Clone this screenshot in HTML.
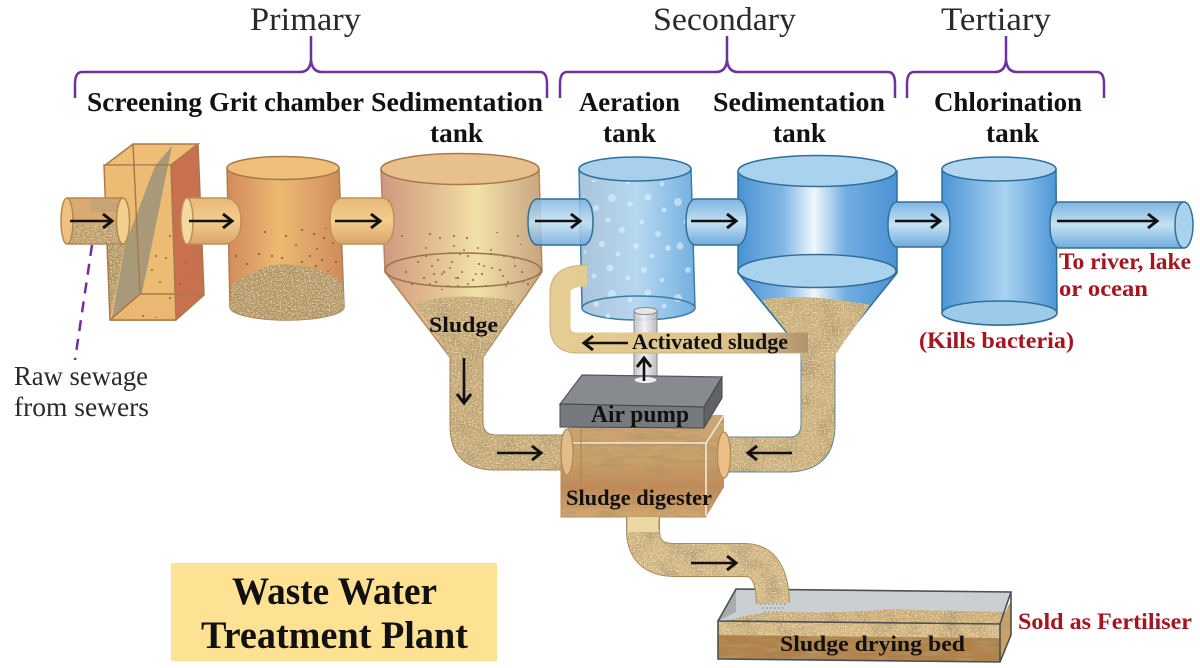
<!DOCTYPE html>
<html><head><meta charset="utf-8"><style>
html,body{margin:0;padding:0;background:#fff;width:1200px;height:668px;overflow:hidden}
svg{display:block}
text{font-family:"Liberation Serif",serif}
.h{font-size:33px;fill:#2a2a2a}
.b{font-size:27px;font-weight:bold;fill:#111}
.r{font-size:23px;font-weight:bold;fill:#a5141f}
.s{font-size:22px;font-weight:bold;fill:#111}
.n{font-size:27px;fill:#2a2a2a}
.t{font-size:39px;font-weight:bold;fill:#111}
</style></head><body>
<svg width="1200" height="668" viewBox="0 0 1200 668" xmlns="http://www.w3.org/2000/svg">
<defs>
<marker id="a" markerWidth="16" markerHeight="18" refX="13" refY="9" orient="auto" markerUnits="userSpaceOnUse"><path d="M4 2 L13 9 L4 16" fill="none" stroke="#111" stroke-width="3"/></marker>
<filter id="sand" filterUnits="userSpaceOnUse" x="0" y="0" width="1200" height="668">
<feTurbulence type="fractalNoise" baseFrequency="0.7" numOctaves="2" seed="4" result="n1"/>
<feColorMatrix in="n1" type="matrix" values="0 0 0 0 .42  0 0 0 0 .30  0 0 0 0 .14  2.200 0 0 0 -1.020" result="c1"/>
<feComposite in="c1" in2="SourceAlpha" operator="in" result="d1"/>
<feTurbulence type="fractalNoise" baseFrequency="0.65" numOctaves="2" seed="11" result="n2"/>
<feColorMatrix in="n2" type="matrix" values="0 0 0 0 .93  0 0 0 0 .84  0 0 0 0 .62  2.200 0 0 0 -1.020" result="c2"/>
<feComposite in="c2" in2="SourceAlpha" operator="in" result="d2"/>
<feTurbulence type="fractalNoise" baseFrequency="0.05" numOctaves="2" seed="7" result="n3"/>
<feColorMatrix in="n3" type="matrix" values="0 0 0 0 .45  0 0 0 0 .32  0 0 0 0 .15  2.400 0 0 0 -1.100" result="c3"/>
<feComposite in="c3" in2="SourceAlpha" operator="in" result="d3"/>
<feMerge><feMergeNode in="SourceGraphic"/><feMergeNode in="d3"/><feMergeNode in="d1"/><feMergeNode in="d2"/></feMerge>
</filter>
<filter id="soft" filterUnits="userSpaceOnUse" x="0" y="0" width="1200" height="668">
<feTurbulence type="fractalNoise" baseFrequency="0.04 0.25" numOctaves="3" seed="3" result="n1"/>
<feColorMatrix in="n1" type="matrix" values="0 0 0 0 .45  0 0 0 0 .30  0 0 0 0 .14  2.200 0 0 0 -.950" result="c1"/>
<feComposite in="c1" in2="SourceAlpha" operator="in" result="d1"/>
<feMerge><feMergeNode in="SourceGraphic"/><feMergeNode in="d1"/></feMerge>
</filter>
<pattern id="dots" width="116" height="62" patternUnits="userSpaceOnUse">
<path d="M4 8h0M15 16h0M27 6h0M36 22h0M50 10h0M58 24h0M9 32h0M22 38h0M33 46h0M44 34h0M54 50h0M18 26h0M40 8h0M3 52h0M70 14h0M78 8h0M84 18h0M90 12h0M96 24h0M104 14h0M110 30h0M100 38h0M88 34h0M76 30h0M70 44h0M82 48h0M92 52h0M106 50h0M64 36h0M112 6h0M94 42h0M86 26h0" stroke="#8a6a3c" stroke-width="2.300" stroke-linecap="round"/>
</pattern>
<pattern id="bub" width="112" height="96" patternUnits="userSpaceOnUse">
<g fill="#e8f5fc">
<circle cx="6" cy="10" r="4"/><circle cx="22" cy="4" r="2.500"/><circle cx="36" cy="16" r="3"/><circle cx="52" cy="6" r="4"/><circle cx="70" cy="12" r="2.500"/><circle cx="88" cy="5" r="3.500"/><circle cx="104" cy="18" r="2.500"/>
<circle cx="14" cy="30" r="2.500"/><circle cx="30" cy="36" r="3.500"/><circle cx="48" cy="28" r="2.500"/><circle cx="62" cy="38" r="3"/><circle cx="82" cy="30" r="2.500"/><circle cx="98" cy="42" r="3"/>
<circle cx="8" cy="54" r="3.500"/><circle cx="24" cy="60" r="2.500"/><circle cx="42" cy="52" r="3"/><circle cx="58" cy="62" r="2.500"/><circle cx="76" cy="54" r="3"/><circle cx="92" cy="64" r="2.500"/><circle cx="108" cy="56" r="3"/>
<circle cx="16" cy="78" r="3"/><circle cx="34" cy="84" r="2.500"/><circle cx="50" cy="76" r="3.500"/><circle cx="68" cy="86" r="2.500"/><circle cx="84" cy="78" r="3"/><circle cx="102" cy="88" r="2.500"/>
</g>
</pattern>
<linearGradient id="tan"><stop offset="0" stop-color="#d28a5c"/><stop offset=".45" stop-color="#ecba72"/><stop offset="1" stop-color="#cf8a5c"/></linearGradient>
<linearGradient id="tanb"><stop offset="0" stop-color="#cf9880"/><stop offset=".3" stop-color="#e2bb90"/><stop offset=".6" stop-color="#f1e0a8"/><stop offset="1" stop-color="#c8a480"/></linearGradient>
<linearGradient id="pv" x2="0" y2="1"><stop offset="0" stop-color="#e8b878"/><stop offset=".5" stop-color="#f2cd8d"/><stop offset="1" stop-color="#dca56c"/></linearGradient>
<linearGradient id="bv" x2="0" y2="1"><stop offset="0" stop-color="#7db4e0"/><stop offset=".5" stop-color="#c4e1f4"/><stop offset="1" stop-color="#6fabdc"/></linearGradient>
<linearGradient id="aer"><stop offset="0" stop-color="#a9c4d9"/><stop offset=".5" stop-color="#b6d8f0"/><stop offset="1" stop-color="#74b0e0"/></linearGradient>
<linearGradient id="sed2"><stop offset="0" stop-color="#4a92d4"/><stop offset=".28" stop-color="#7fb6e4"/><stop offset=".48" stop-color="#f0f7fc"/><stop offset=".68" stop-color="#72ade0"/><stop offset="1" stop-color="#4a92d4"/></linearGradient>
<linearGradient id="chl"><stop offset="0" stop-color="#4c95d6"/><stop offset=".55" stop-color="#aad3f0"/><stop offset="1" stop-color="#4c95d6"/></linearGradient>
<linearGradient id="sl"><stop offset="0" stop-color="#e4cd92"/><stop offset=".7" stop-color="#dcc28a"/><stop offset="1" stop-color="#b0946c"/></linearGradient>
<linearGradient id="dig" x2="0" y2="1"><stop offset="0" stop-color="#cba678"/><stop offset=".45" stop-color="#c8a068"/><stop offset=".72" stop-color="#c28856"/><stop offset="1" stop-color="#d2a870"/></linearGradient>
<linearGradient id="tube"><stop offset="0" stop-color="#bdbdc2"/><stop offset=".45" stop-color="#f1f1f3"/><stop offset="1" stop-color="#b5b5ba"/></linearGradient>
</defs>

<!-- headings -->
<text class="h" x="250" y="30" textLength="111" lengthAdjust="spacingAndGlyphs">Primary</text>
<text class="h" x="653" y="30" textLength="143" lengthAdjust="spacingAndGlyphs">Secondary</text>
<text class="h" x="941" y="30" textLength="110" lengthAdjust="spacingAndGlyphs">Tertiary</text>
<g fill="none" stroke="#7030a0" stroke-width="2.500">
<path d="M75 98 V84 Q75 72 82 72 H300 Q310 72 311 60 V36 V60 Q312 72 322 72 H540 Q547 72 547 84 V98"/>
<path d="M560 98 V84 Q560 72 567 72 H716 Q726 72 727 60 V36 V60 Q728 72 738 72 H888 Q895 72 895 84 V98"/>
<path d="M907 98 V84 Q907 72 914 72 H995 Q1005 72 1006 60 V36 V60 Q1007 72 1017 72 H1097 Q1104 72 1104 84 V98"/>
</g>
<text class="b" x="87" y="111" textLength="115" lengthAdjust="spacingAndGlyphs">Screening</text>
<text class="b" x="209" y="111" textLength="155" lengthAdjust="spacingAndGlyphs">Grit chamber</text>
<text class="b" x="371" y="111" textLength="172" lengthAdjust="spacingAndGlyphs">Sedimentation</text>
<text class="b" x="430" y="142" textLength="53" lengthAdjust="spacingAndGlyphs">tank</text>
<text class="b" x="579" y="111" textLength="101" lengthAdjust="spacingAndGlyphs">Aeration</text>
<text class="b" x="603" y="142" textLength="53" lengthAdjust="spacingAndGlyphs">tank</text>
<text class="b" x="713" y="111" textLength="172" lengthAdjust="spacingAndGlyphs">Sedimentation</text>
<text class="b" x="773" y="142" textLength="53" lengthAdjust="spacingAndGlyphs">tank</text>
<text class="b" x="934" y="111" textLength="148" lengthAdjust="spacingAndGlyphs">Chlorination</text>
<text class="b" x="986" y="142" textLength="53" lengthAdjust="spacingAndGlyphs">tank</text>

<!-- screening -->
<path d="M104 166 H171 L176 321 H110 Z" fill="#ecbc74"/>
<path d="M104 166 L133 144 H198 L171 165 Z" fill="#eebd76"/>
<path d="M110 320 L140 294 H204 L176 320 Z" fill="#eab871"/>
<path d="M171 165 L198 144 L204 295 L176 320 Z" fill="#c9714f"/>
<path d="M107 244 H125 L112 310 L110 318 Z" fill="#b3935c" filter="url(#sand)"/>
<path d="M172 146 L155 166 L125 245 L112 318 L142 293 Z" fill="#a89a78"/>
<path d="M150 225 H172 V290 H145 Z M120 318 L142 296 H200 L176 318 Z M176 235 H200 V292 H176 Z" fill="url(#dots)" opacity=".8"/>
<path d="M104 166 L133 144 H198 L171 165 H104 L110 320 H176 L171 165 M198 144 L204 295 L176 320 M110 320 L140 294 H204 M133 144 L140 294" fill="none" stroke="#a9794a" stroke-width="1.500"/>
<!-- pipe 1 -->
<path d="M67 198 H123 V244 H67 Z" fill="#d9aa72"/>
<path d="M70 222 Q100 228 122 222 V244 H67 Z" fill="#bd9d66" filter="url(#sand)"/>
<path d="M90 198 H122 V212 H90 Z" fill="#c4a678" filter="url(#soft)" opacity=".7"/>
<path d="M67 198 H123 M67 244 H123" stroke="#b8864f" stroke-width="1.600"/>
<ellipse cx="67" cy="221" rx="6" ry="23" fill="#edc27e" stroke="#b8864f" stroke-width="1.500"/>
<ellipse cx="123" cy="221" rx="6.500" ry="23" fill="#f2cf8f" stroke="#b8864f" stroke-width="1.500"/>

<!-- grit chamber -->
<path d="M227 168 L230 307 A57 13 0 0 0 344 307 L339 168 Z" fill="url(#tan)" stroke="#b07f50" stroke-width="1.500"/>
<path d="M232 228 H338 V272 H232 Z" fill="url(#dots)"/>
<path d="M236 228 H306 V260 H236 Z" fill="url(#dots)" transform="translate(31 13)" opacity=".8"/>
<path d="M231 286 Q265 258 300 266 Q330 270 343 284 L344 307 A57 13 0 0 1 230 307 Z" fill="#b2945e" filter="url(#sand)"/>
<ellipse cx="283" cy="168" rx="56" ry="11.500" fill="#edbf78" stroke="#a9794a" stroke-width="1.500"/>
<!-- pipe 2 -->
<path d="M187 198 H226 Q241 200 241 221 Q241 242 226 244 H187 Z" fill="url(#pv)" stroke="#c09058" stroke-width="1.500"/>
<ellipse cx="187" cy="221" rx="6" ry="23" fill="#f5d8a0" stroke="#c09058" stroke-width="1.500"/>

<!-- sedimentation 1 -->
<path d="M381 169 L385 272 L450 357 H483 L542 272 L539 169 Z" fill="url(#tanb)" stroke="#b08a5e" stroke-width="1.500"/>
<path d="M415 303 Q450 292 510 300 L518 305 L483 357 V422 Q483 435 496 435 H566 V470 H495 Q450 470 450 425 V357 Z" fill="#c8aa74" filter="url(#sand)"/>
<path d="M483 357 V422 Q483 435 496 435 H566 M566 470 H495 Q450 470 450 425 V357" fill="none" stroke="#a9835a" stroke-width="1"/>
<path d="M400 232 H530 V290 H400 Z" fill="url(#dots)" opacity=".85"/>
<path d="M400 232 H500 V275 H400 Z" fill="url(#dots)" transform="translate(24 12)" opacity=".7"/>
<ellipse cx="463" cy="270" rx="78" ry="17" fill="none" stroke="#9a754c" stroke-width="1.500"/>
<ellipse cx="460" cy="169" rx="79" ry="15.500" fill="#e8c08e" stroke="#a9794a" stroke-width="1.500"/>
<path d="M338 198 H384 Q394 201 394 221 Q394 241 384 244 H340 Q330 241 330 221 Q330 201 340 198 Z" fill="url(#pv)" stroke="#c09058" stroke-width="1.500"/>

<!-- lower sludge right -->
<path d="M801 345 V424 Q801 437 790 437 H722 V472 H790 Q835 470 835 425 V350 Z" fill="#d0b27c" filter="url(#sand)"/>
<path d="M801 345 V424 Q801 437 790 437 H722 M722 472 H790 Q835 470 835 425 V350" fill="none" stroke="#5e8a90" stroke-width="1"/>

<!-- digester -->
<path d="M574 415 H724 V487 L706 517 H561 V444 Z" fill="url(#dig)" filter="url(#soft)"/>
<path d="M561 444 H706 V517 H561 Z" fill="none" stroke="#b78c5c" stroke-width="1"/>
<path d="M561 443 H706 V516 M706 443 L724 415" fill="none" stroke="#f3e9d8" stroke-width="1.600"/>
<path d="M581 415 V487" stroke="#a9835a" stroke-width="1"/>
<ellipse cx="567" cy="452" rx="6" ry="23" fill="#e2bd8b" stroke="#b48a58" stroke-width="1.300"/>
<ellipse cx="724" cy="455" rx="6.500" ry="23" fill="#ecbf85" stroke="#b48a58" stroke-width="1.300"/>

<!-- drying bed -->
<path d="M736 589 L1011 592 L1000 624 L718 621 Z" fill="#c9cfd2"/>
<path d="M718 621 L736 589 V612 Z" fill="#a7acae"/>
<path d="M722 622 Q760 610 800 612 Q850 613 890 609 Q950 611 1006 612 L1000 625 Z" fill="#cfae74" filter="url(#sand)"/>
<path d="M718 621 L1000 624 V662 L718 659 Z" fill="#d8ba82" filter="url(#sand)"/>
<path d="M718 635 L1000 638 V662 L718 659 Z" fill="#b08248" filter="url(#soft)"/>
<path d="M1000 624 L1011 600 V635 L1000 662 Z" fill="#c9a468" filter="url(#soft)"/>
<path d="M718 621 L1000 624 V662 L718 659 Z M718 621 L736 589 L1011 592 L1000 624 M1011 592 V635 L1000 662" fill="none" stroke="#4a5054" stroke-width="1.600"/>
<path d="M760 604 h26 M762 608 h24 M764 612 h20" stroke="#a8a49a" stroke-width="2" stroke-dasharray="1.500 2.500"/>

<!-- lower pipe -->
<path d="M643 517 V530 Q643 560 675 560 H745 Q772 560 773 603" fill="none" stroke="#a98a5c" stroke-width="34"/>
<path d="M643 517 V530 Q643 560 675 560 H745 Q772 560 773 603" fill="none" stroke="#d6ba84" stroke-width="32" filter="url(#sand)"/>
<path d="M628 517 H658 V532 H628 Z" fill="#ecd8a4"/>

<!-- aeration -->
<path d="M579 169 L582 308 A56.500 12 0 0 0 695 308 L691 169 Z" fill="url(#aer)" stroke="#3c7ea8" stroke-width="1.500"/>
<path d="M583 180 L586 318 H692 L688 180 Z" fill="url(#bub)" opacity=".55"/>
<ellipse cx="635" cy="169" rx="56" ry="12" fill="#a8d0ec" stroke="#2f7099" stroke-width="1.500"/>
<path d="M582 308 A56.500 12 0 0 1 695 308" fill="none" stroke="#3c7ea8" stroke-width="1.500"/>

<!-- sedimentation 2 -->
<path d="M738 171 V273 L801 350 H835 L897 273 V171 Z" fill="url(#sed2)" stroke="#2f6f98" stroke-width="1.500"/>
<path d="M762 300 Q800 292 870 305 L835 355 V360 H801 V350 Z" fill="#d0b27c" filter="url(#sand)"/>
<ellipse cx="817" cy="271" rx="79" ry="16.500" fill="#a9d2ee" stroke="#2f6f98" stroke-width="1.500"/>
<ellipse cx="817" cy="171" rx="79" ry="15.500" fill="#a9d2ee" stroke="#2f6f98" stroke-width="1.500"/>

<!-- air tube -->
<rect x="634" y="311" width="23" height="69" fill="url(#tube)" fill-opacity=".9" stroke="#8a8a8e" stroke-width="1"/>
<ellipse cx="645.500" cy="311" rx="11.500" ry="3.500" fill="#e6e6e8" stroke="#8a8a8e" stroke-width="1"/>

<!-- activated sludge pipe -->
<path d="M808 343 H578 Q560 343 560 325 V293 Q560 276 587 276" fill="none" stroke="url(#sl)" stroke-width="21"/>
<path d="M808 353 H578 Q550 353 550 325 V293 Q550 265 587 265" fill="none" stroke="#c8ad78" stroke-width="1"/>

<!-- blue pipes -->
<path d="M536 199 H585 Q593 203 593 222 Q593 241 585 245 H536 Q528 241 528 222 Q528 203 536 199 Z" fill="url(#bv)" fill-opacity=".85" stroke="#2f7099" stroke-width="1.500"/>
<path d="M694 199 H739 Q747 203 747 222 Q747 241 739 245 H694 Q686 241 686 222 Q686 203 694 199 Z" fill="url(#bv)" stroke="#2f7099" stroke-width="1.500"/>

<!-- chlorination -->
<path d="M942 169 V313 A57 12 0 0 0 1057 313 L1056 169 Z" fill="url(#chl)" stroke="#2f7099" stroke-width="1.500"/>
<ellipse cx="999.500" cy="313" rx="57.500" ry="12" fill="#9ccbea" stroke="#2f7099" stroke-width="1.500"/>
<ellipse cx="999" cy="169" rx="57" ry="12" fill="#b2d6ef" stroke="#2f7099" stroke-width="1.500"/>
<path d="M896 202 H942 Q950 206 950 225 Q950 243 942 247 H896 Q888 243 888 225 Q888 206 896 202 Z" fill="url(#bv)" stroke="#2f7099" stroke-width="1.500"/>
<path d="M1058 202 H1184 V248 H1058 Q1050 244 1050 225 Q1050 206 1058 202 Z" fill="url(#bv)" stroke="#2f7099" stroke-width="1.500"/>
<ellipse cx="1184" cy="225" rx="9" ry="23" fill="#a9d2ee" stroke="#2f7099" stroke-width="1.500"/>

<!-- air pump -->
<path d="M582 375 L722 377 L704 407 L560 404 Z" fill="#878a8e" stroke="#55585c" stroke-width="1.200"/>
<path d="M722 377 V398 L704 428 V407 Z" fill="#5f6266" stroke="#45474a" stroke-width="1"/>
<path d="M560 404 L704 407 V428 L560 427 Z" fill="#76797d" stroke="#45474a" stroke-width="1"/>
<ellipse cx="645.500" cy="380" rx="11.500" ry="3.500" fill="#eeeeee" stroke="#8a8a8e" stroke-width="1"/>

<!-- title -->
<rect x="171" y="563" width="326" height="98" fill="#fde294"/>
<text class="t" x="232" y="604" textLength="205" lengthAdjust="spacingAndGlyphs">Waste Water</text>
<text class="t" x="201" y="648" textLength="267" lengthAdjust="spacingAndGlyphs">Treatment Plant</text>

<!-- dashed line -->
<path d="M92 245 L75 360" stroke="#7030a0" stroke-width="2.500" stroke-dasharray="11 8" fill="none"/>

<!-- arrows -->
<g stroke="#111" stroke-width="2.600" fill="none">
<path d="M70 221 H112" marker-end="url(#a)"/>
<path d="M189 221 H232" marker-end="url(#a)"/>
<path d="M335 221 H380" marker-end="url(#a)"/>
<path d="M535 221 H580" marker-end="url(#a)"/>
<path d="M691 221 H736" marker-end="url(#a)"/>
<path d="M895 221 H940" marker-end="url(#a)"/>
<path d="M1057 221 H1157" marker-end="url(#a)"/>
<path d="M464 358 V403" marker-end="url(#a)"/>
<path d="M628 343 H584" marker-end="url(#a)"/>
<path d="M644 381 V358" marker-end="url(#a)"/>
<path d="M497 453 H541" marker-end="url(#a)"/>
<path d="M792 453 H748" marker-end="url(#a)"/>
<path d="M691 563 H736" marker-end="url(#a)"/>
</g>

<!-- labels -->
<text class="n" x="14" y="385" textLength="134" lengthAdjust="spacingAndGlyphs">Raw sewage</text>
<text class="n" x="14" y="416" textLength="135" lengthAdjust="spacingAndGlyphs">from sewers</text>
<text class="s" x="429" y="332" textLength="69" lengthAdjust="spacingAndGlyphs">Sludge</text>
<text class="s" x="632" y="349" textLength="156" lengthAdjust="spacingAndGlyphs">Activated sludge</text>
<text class="s" x="591" y="422" textLength="98" lengthAdjust="spacingAndGlyphs" style="font-size:24px">Air pump</text>
<text class="s" x="566" y="505" textLength="146" lengthAdjust="spacingAndGlyphs">Sludge digester</text>
<text class="s" x="780" y="651" textLength="185" lengthAdjust="spacingAndGlyphs">Sludge drying bed</text>
<text class="r" x="919" y="348" textLength="155" lengthAdjust="spacingAndGlyphs">(Kills bacteria)</text>
<text class="r" x="1059" y="269" textLength="132" lengthAdjust="spacingAndGlyphs">To river, lake</text>
<text class="r" x="1059" y="296" textLength="89" lengthAdjust="spacingAndGlyphs">or ocean</text>
<text class="r" x="1018" y="629" textLength="174" lengthAdjust="spacingAndGlyphs">Sold as Fertiliser</text>
</svg>
</body></html>
